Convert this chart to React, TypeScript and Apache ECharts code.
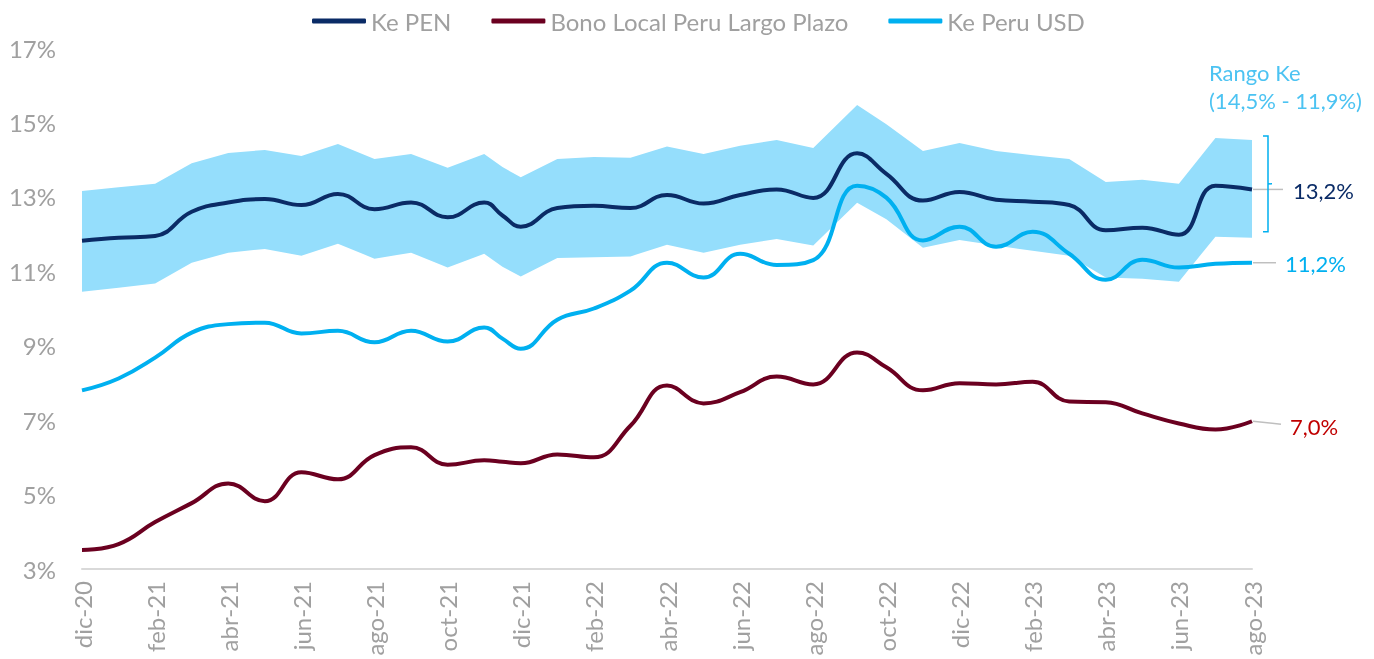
import React, { useEffect, useRef } from "react";
import * as echarts from "echarts";

const MONTHS = [
  "dic-20", "ene-21", "feb-21", "mar-21", "abr-21", "may-21", "jun-21", "jul-21", "ago-21", "sep-21", "oct-21", "nov-21",
  "dic-21", "ene-22", "feb-22", "mar-22", "abr-22", "may-22", "jun-22", "jul-22", "ago-22", "sep-22", "oct-22", "nov-22",
  "dic-22", "ene-23", "feb-23", "mar-23", "abr-23", "may-23", "jun-23", "jul-23", "ago-23",
];

// observation positions in months from dic-20
const XS = [0, 1, 2, 3, 4, 5, 6, 7, 8, 9, 10, 11, 11.5, 12, 13, 14, 15, 16, 17, 18, 19, 20, 21.2, 22, 23, 24, 25, 26, 27, 28, 29, 30, 31, 32];

const KE_PEN = [11.82, 11.9, 11.95, 12.6, 12.85, 12.94, 12.78, 13.08, 12.67, 12.85, 12.45, 12.85, 12.5, 12.2, 12.7, 12.76, 12.7, 13.05, 12.82, 13.05, 13.2, 12.97, 14.17, 13.62, 12.9, 13.13, 12.92, 12.87, 12.78, 12.1, 12.17, 11.98, 13.3, 13.2];
const BONO = [3.51, 3.67, 4.26, 4.77, 5.3, 4.82, 5.6, 5.41, 6.06, 6.27, 5.8, 5.92, 5.88, 5.84, 6.08, 6.0, 6.85, 7.93, 7.45, 7.75, 8.17, 7.96, 8.82, 8.42, 7.8, 7.99, 7.96, 8.03, 7.5, 7.48, 7.18, 6.91, 6.75, 6.97];
const KE_USD = [7.8, 8.12, 8.68, 9.35, 9.58, 9.62, 9.33, 9.4, 9.09, 9.4, 9.11, 9.49, 9.19, 8.92, 9.7, 10.0, 10.48, 11.23, 10.83, 11.47, 11.17, 11.3, 13.3, 12.98, 11.83, 12.2, 11.66, 12.06, 11.47, 10.77, 11.31, 11.1, 11.2, 11.23];
const RANGE_HIGH = [13.16, 13.26, 13.35, 13.9, 14.18, 14.26, 14.1, 14.42, 14.02, 14.15, 13.78, 14.15, 13.8, 13.53, 14.02, 14.07, 14.05, 14.35, 14.15, 14.37, 14.53, 14.31, 15.47, 14.95, 14.23, 14.45, 14.23, 14.12, 14.02, 13.4, 13.46, 13.35, 14.58, 14.53];
const RANGE_LOW = [10.45, 10.56, 10.67, 11.23, 11.5, 11.6, 11.42, 11.74, 11.34, 11.5, 11.1, 11.47, 11.12, 10.86, 11.36, 11.38, 11.4, 11.71, 11.5, 11.71, 11.87, 11.69, 12.84, 12.4, 11.63, 11.84, 11.69, 11.55, 11.42, 10.83, 10.8, 10.72, 11.93, 11.9];

const NAMES = ["Ke PEN", "Bono Local Peru Largo Plazo", "Ke Peru USD"];

const C_NAVY = "#0a2b66";
const C_MAROON = "#6b0020";
const C_BLUE = "#00b0f0";
const C_BAND = "#95defc";
const C_GREY = "#a0a0a0";
const C_RANGE_TXT = "#4cc3f2";
const FONT = "Lato";
const FS = 24;
const FS_NOTE = 22;

const fmt = (v: number) => v.toFixed(1).replace(".", ",") + "%";
const pts = (arr: number[]) => XS.map((x, i) => [x, arr[i]]);

export default function App() {
  const ref = useRef<HTMLDivElement>(null);
  useEffect(() => {
    if (!ref.current) return;
    const chart = echarts.init(ref.current, null, { renderer: "svg" });
    const lineSeries = (name: string, data: number[], color: string) => ({
      name,
      type: "line",
      data: pts(data),
      smooth: 0.45,
      symbol: "none",
      lineStyle: { color, width: 4 },
      itemStyle: { color },
      z: 3,
    });
    chart.setOption({
      animation: false,
      textStyle: { fontFamily: FONT },
      grid: { left: 82, right: 122, top: 48, bottom: 90, containLabel: false },
      legend: {
        data: NAMES,
        top: 4,
        left: 307,
        icon: "roundRect",
        itemWidth: 54,
        itemHeight: 5,
        itemGap: 40,
        textStyle: { color: C_GREY, fontSize: FS, fontFamily: FONT },
      },
      xAxis: {
        type: "value",
        min: 0,
        max: 32,
        interval: 2,
        axisLine: { show: true, lineStyle: { color: "#d9d9d9", width: 2 } },
        axisTick: { show: false },
        splitLine: { show: false },
        axisLabel: {
          rotate: 90,
          margin: 12,
          color: C_GREY,
          fontSize: FS,
          fontFamily: FONT,
          formatter: (v: number) => MONTHS[v] ?? "",
        },
      },
      yAxis: {
        type: "value",
        min: 3,
        max: 17,
        interval: 2,
        axisLine: { show: false },
        axisTick: { show: false },
        splitLine: { show: false },
        axisLabel: { color: C_GREY, fontSize: FS, fontFamily: FONT, margin: 26, formatter: (v: number) => v + "%" },
      },
      series: [
        {
          name: "Rango Ke",
          type: "custom",
          data: pts(RANGE_HIGH),
          encode: { x: 0, y: 1 },
          silent: true,
          z: 1,
          renderItem: (params: any, api: any) => {
            if (params.dataIndex !== 0) return null;
            const upper = XS.map((x, i) => api.coord([x, RANGE_HIGH[i]]));
            const lower = XS.map((x, i) => api.coord([x, RANGE_LOW[i]])).reverse();
            return {
              type: "polygon",
              shape: { points: upper.concat(lower) },
              style: { fill: C_BAND, stroke: null },
            };
          },
        },
        lineSeries(NAMES[0], KE_PEN, C_NAVY),
        lineSeries(NAMES[1], BONO, C_MAROON),
        lineSeries(NAMES[2], KE_USD, C_BLUE),
      ],
    });

    const last = XS.length - 1;
    const px = (v: number) => chart.convertToPixel({ xAxisIndex: 0, yAxisIndex: 0 }, [XS[last], v]) as number[];
    const pPen = px(KE_PEN[last]);
    const pUsd = px(KE_USD[last]);
    const pBono = px(BONO[last]);
    const pHi = px(RANGE_HIGH[last]);
    const pLo = px(RANGE_LOW[last]);
    const bx = pPen[0] + 16;
    const top = pHi[1] - 4;
    const bot = pLo[1] - 6;
    const mid = (top + bot) / 2;
    const seg = (x1: number, y1: number, x2: number, y2: number, stroke: string) => ({
      type: "line",
      z: 100,
      shape: { x1, y1, x2, y2 },
      style: { stroke, lineWidth: 1.5 },
      silent: true,
    });
    const label = (x: number, y: number, text: string, color: string) => ({
      type: "text",
      z: 100,
      x,
      y,
      style: { text, fill: color, font: `${FS_NOTE}px ${FONT}`, textVerticalAlign: "middle", textAlign: "left" },
      silent: true,
    });
    chart.setOption({
      graphic: [
        seg(pPen[0] + 1, pPen[1], pPen[0] + 31, pPen[1], "#bfbfbf"),
        seg(pUsd[0] + 1, pUsd[1], pUsd[0] + 24, pUsd[1], "#bfbfbf"),
        seg(pBono[0] + 1, pBono[1], pBono[0] + 29, pBono[1] + 3, "#bfbfbf"),
        label(pPen[0] + 41, pPen[1] + 1, fmt(KE_PEN[last]), C_NAVY),
        label(pUsd[0] + 33, pUsd[1] + 1, fmt(KE_USD[last]), C_BLUE),
        label(pBono[0] + 38, pBono[1] + 5, fmt(BONO[last]), "#c00000"),
        {
          type: "polyline",
          z: 100,
          shape: { points: [[bx - 5, top], [bx, top], [bx, bot], [bx - 5, bot]] },
          style: { stroke: C_BLUE, lineWidth: 1.5, fill: null },
          silent: true,
        },
        seg(bx, mid, bx + 4, mid, C_BLUE),
        label(1209, 72, "Rango Ke", C_RANGE_TXT),
        label(1209, 100, `(${fmt(RANGE_HIGH[last])} - ${fmt(RANGE_LOW[last])})`, C_RANGE_TXT),
      ],
    });

    return () => chart.dispose();
  }, []);
  return <div ref={ref} style={{ position: "fixed", left: 0, top: 0, width: 1374, height: 659 }} />;
}
